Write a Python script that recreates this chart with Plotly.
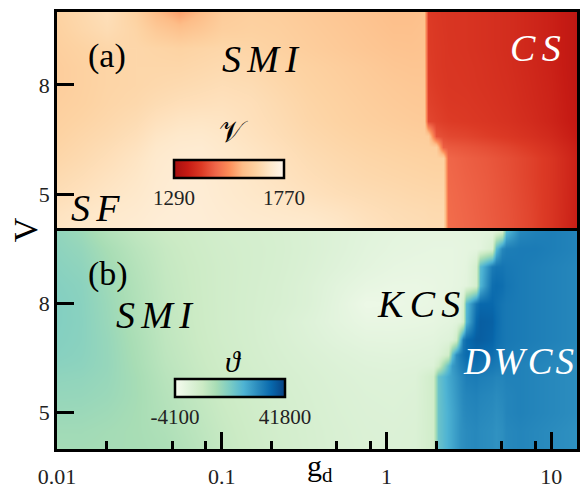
import plotly.graph_objects as go
from plotly.subplots import make_subplots

# Interaction strength V (rows, bottom to top), shared by both panels
V_ROWS = [4.0, 4.5, 5.0, 5.5, 6.0, 6.3, 6.6, 7.0, 7.5, 8.0, 8.5, 9.0, 9.5, 10.0]

# Panel (a): g_d grid and the nu map
GD_A = [0.01, 0.014, 0.02, 0.03, 0.04, 0.055, 0.075, 0.1, 0.15, 0.22, 0.33, 0.5, 0.75,
        1.1, 1.4, 1.68, 1.8, 2.0, 2.22, 2.38, 3, 4, 5.5, 7.5, 10, 12.5, 15]
NU = [
    [1702, 1712, 1720, 1726, 1732, 1734, 1732, 1728, 1724, 1722, 1720, 1710, 1695, 1684, 1680, 1677, 1675, 1675, 1675, 1482, 1472, 1460, 1445, 1425, 1400, 1372, 1350],
    [1694, 1704, 1713, 1720, 1728, 1732, 1730, 1724, 1717, 1712, 1707, 1698, 1686, 1678, 1674, 1672, 1670, 1669, 1669, 1480, 1470, 1458, 1444, 1424, 1400, 1374, 1352],
    [1680, 1690, 1702, 1713, 1724, 1730, 1728, 1720, 1710, 1702, 1692, 1682, 1675, 1669, 1665, 1663, 1662, 1661, 1661, 1478, 1468, 1457, 1442, 1422, 1400, 1375, 1354],
    [1670, 1680, 1693, 1707, 1720, 1728, 1726, 1718, 1706, 1695, 1683, 1673, 1665, 1660, 1657, 1655, 1654, 1653, 1653, 1475, 1465, 1455, 1440, 1420, 1400, 1376, 1355],
    [1660, 1670, 1683, 1700, 1716, 1725, 1725, 1716, 1703, 1690, 1676, 1666, 1658, 1653, 1650, 1648, 1647, 1646, 1646, 1472, 1462, 1452, 1438, 1420, 1400, 1376, 1356],
    [1655, 1665, 1677, 1693, 1711, 1720, 1722, 1712, 1699, 1686, 1671, 1661, 1653, 1648, 1644, 1642, 1641, 1640, 1462, 1455, 1448, 1438, 1425, 1408, 1390, 1370, 1352],
    [1650, 1660, 1670, 1685, 1703, 1713, 1715, 1707, 1693, 1680, 1666, 1656, 1648, 1642, 1638, 1636, 1634, 1445, 1435, 1430, 1425, 1415, 1405, 1392, 1378, 1360, 1345],
    [1645, 1653, 1663, 1675, 1690, 1700, 1703, 1700, 1687, 1675, 1660, 1650, 1641, 1634, 1630, 1628, 1428, 1420, 1415, 1412, 1408, 1402, 1394, 1382, 1368, 1352, 1338],
    [1640, 1647, 1657, 1665, 1675, 1683, 1687, 1690, 1683, 1670, 1656, 1646, 1636, 1628, 1624, 1622, 1420, 1414, 1410, 1406, 1404, 1398, 1390, 1378, 1366, 1350, 1336],
    [1635, 1645, 1655, 1660, 1665, 1670, 1675, 1680, 1675, 1663, 1651, 1641, 1631, 1623, 1619, 1618, 1416, 1410, 1406, 1403, 1401, 1395, 1388, 1376, 1364, 1348, 1334],
    [1635, 1645, 1655, 1660, 1660, 1660, 1665, 1670, 1665, 1656, 1646, 1636, 1626, 1616, 1613, 1613, 1414, 1408, 1404, 1402, 1400, 1394, 1386, 1374, 1362, 1346, 1332],
    [1640, 1650, 1660, 1660, 1655, 1650, 1655, 1660, 1655, 1646, 1636, 1626, 1616, 1608, 1606, 1608, 1412, 1407, 1404, 1401, 1398, 1392, 1385, 1372, 1360, 1345, 1330],
    [1645, 1660, 1675, 1655, 1625, 1605, 1620, 1640, 1645, 1641, 1631, 1621, 1611, 1601, 1601, 1606, 1412, 1406, 1403, 1400, 1398, 1392, 1385, 1372, 1360, 1345, 1330],
    [1650, 1665, 1685, 1645, 1590, 1555, 1590, 1630, 1640, 1636, 1626, 1616, 1606, 1596, 1596, 1601, 1410, 1405, 1402, 1400, 1398, 1392, 1385, 1372, 1360, 1345, 1330],
]
NU_RANGE = [1290, 1770]

# Panel (b): g_d grid and the theta map
GD_B = [0.01, 0.014, 0.02, 0.03, 0.045, 0.07, 0.1, 0.15, 0.22, 0.33, 0.5, 0.75, 1.1, 1.5,
        1.93, 2.05, 2.35, 2.5, 2.65, 2.8, 2.93, 3.06, 3.5, 3.7, 4.35, 4.6, 5.05, 5.35,
        6.5, 8, 10, 12.5, 15]
THETA = [
    [13500, 13600, 13400, 13200, 12500, 10500, 8500, 7000, 5700, 4700, 3800, 3200, 3000, 3300, 6000, 21000, 25000, 26500, 28000, 29500, 30000, 30500, 31000, 30500, 30000, 29500, 30000, 31000, 31500, 31000, 30500, 30000, 29500],
    [14000, 14000, 13600, 13100, 12000, 10000, 8200, 6700, 5500, 4600, 3700, 3100, 2900, 3200, 6000, 21000, 25000, 26500, 28000, 29500, 30000, 30500, 31000, 30500, 30000, 29500, 30000, 31000, 31500, 31000, 30500, 30000, 29500],
    [14800, 14700, 14200, 13200, 11400, 9500, 7800, 6400, 5300, 4400, 3500, 2900, 2700, 3000, 6000, 21000, 25000, 26500, 28000, 29500, 30500, 31000, 31500, 31000, 30500, 30000, 30500, 31500, 32000, 31500, 31000, 30500, 30000],
    [15500, 15400, 14800, 13400, 11000, 9000, 7400, 6100, 5100, 4200, 3300, 2700, 2500, 2800, 6000, 21000, 25500, 27000, 28500, 30000, 31000, 31500, 32000, 31500, 31000, 30500, 31000, 31500, 32000, 31500, 31000, 30500, 30000],
    [16200, 16000, 15200, 13300, 10500, 8500, 7000, 5800, 4800, 3900, 3000, 2400, 2200, 2500, 6000, 21000, 26000, 27500, 29000, 30500, 31500, 32500, 33000, 32500, 32000, 31500, 31500, 32000, 32000, 31500, 31000, 30500, 30000],
    [16800, 16500, 15400, 13000, 10100, 8100, 6700, 5500, 4500, 3600, 2700, 2000, 1800, 2000, 2600, 6000, 22000, 28000, 30000, 32000, 33000, 34000, 34500, 34000, 33500, 33000, 32500, 32500, 32000, 31500, 31000, 30500, 30000],
    [17300, 16800, 15400, 12800, 9800, 7900, 6500, 5300, 4300, 3300, 2300, 1500, 1300, 1500, 1900, 2500, 6000, 22000, 30000, 33000, 34500, 35500, 36000, 35500, 35000, 34000, 33500, 33000, 32500, 32000, 31500, 31000, 30500],
    [17600, 17000, 15300, 12500, 9500, 7600, 6200, 5100, 4000, 2800, 1500, 600, 500, 700, 1000, 1400, 2000, 2800, 6000, 23000, 33000, 35500, 37500, 37500, 36500, 35000, 34000, 33500, 33000, 32500, 32000, 31500, 31000],
    [17800, 17100, 15000, 12000, 9200, 7400, 6000, 5000, 3800, 2400, 800, -500, -500, -300, 0, 300, 700, 1000, 1400, 2000, 5500, 24000, 36000, 37500, 37000, 35500, 34000, 33500, 33000, 32500, 32000, 31500, 31000],
    [17800, 17000, 14800, 11800, 9000, 7300, 6000, 5000, 4200, 3000, 800, -1500, -1200, -800, -500, -200, 200, 500, 1000, 1500, 5000, 23000, 34000, 36000, 36000, 35000, 34000, 33500, 33000, 32500, 32000, 31500, 31000],
    [17500, 16800, 14400, 11500, 8800, 7200, 6000, 5100, 4300, 3000, 1200, -200, -800, -800, -600, -400, -200, 0, 200, 400, 700, 1000, 5000, 24000, 35000, 35500, 35000, 34000, 33000, 32500, 32000, 31500, 31000],
    [17000, 16200, 13800, 11000, 8500, 7100, 6000, 5200, 4500, 3400, 2000, 800, 0, -300, -300, -200, -100, 0, 100, 300, 500, 800, 4500, 23000, 33000, 34000, 34000, 33500, 33000, 32500, 32000, 31500, 31000],
    [16500, 15500, 13000, 10300, 8200, 6800, 5800, 5200, 4600, 3600, 2400, 1200, 500, 200, 0, 0, 0, 0, 100, 200, 300, 400, 600, 900, 4000, 23000, 31000, 32500, 33000, 33000, 32500, 32000, 31500],
    [16000, 14500, 11500, 9200, 7500, 6500, 5500, 5000, 4500, 3500, 2500, 1500, 800, 500, 300, 300, 300, 300, 400, 400, 500, 600, 800, 1000, 1200, 1500, 4000, 23000, 31000, 32000, 32500, 32000, 31500],
]
THETA_RANGE = [-4100, 41800]

# Axis ticks
X_MAJOR = [0.01, 0.1, 1, 10]
X_MAJOR_TEXT = ["0.01", "0.1", "1", "10"]
X_MINOR = [0.02, 0.05, 0.08, 0.2, 0.5, 0.8, 2, 5, 8]
Y_TICKS = [5, 8]

NU_SCALE = [
    [0.0, "#a50f0f"], [0.125, "#c61b14"], [0.25, "#dc3a25"], [0.375, "#ef6548"],
    [0.5, "#fc8d59"], [0.625, "#fdbd88"], [0.75, "#fdd3a3"], [0.875, "#fee8ca"],
    [1.0, "#fff6ec"],
]
GNBU = [
    [0.0, "#f7fcf0"], [0.125, "#e0f3db"], [0.25, "#ccebc5"], [0.375, "#a8ddb5"],
    [0.5, "#7bccc4"], [0.625, "#4eb3d3"], [0.75, "#2b8cbe"], [0.875, "#0868ac"],
    [1.0, "#084081"],
]

SERIF = "Liberation Serif"
W, H = 582, 491
ML, MR, MT, MB = 57, 2, 12, 38
PW, PH = W - ML - MR, H - MT - MB


def px(x):
    return (x - ML) / PW


def py(y):
    return (H - MB - y) / PH


def small_bar(cx, top, vals):
    return dict(
        orientation="h", x=px(cx), xanchor="center", y=py(top), yanchor="top",
        len=110, lenmode="pixels", thickness=18, thicknessmode="pixels",
        outlinewidth=2.5, outlinecolor="black", xpad=0, ypad=0,
        tickvals=vals, ticktext=[str(v) for v in vals], ticks="",
        tickfont=dict(family=SERIF, size=21, color="#222"),
    )


fig = make_subplots(rows=2, cols=1, shared_xaxes=True, vertical_spacing=0)

fig.add_trace(go.Heatmap(
    x=GD_A, y=V_ROWS, z=NU, zmin=NU_RANGE[0], zmax=NU_RANGE[1],
    colorscale=NU_SCALE, zsmooth="best",
    colorbar=small_bar(230, 161, NU_RANGE),
), row=1, col=1)

fig.add_trace(go.Heatmap(
    x=GD_B, y=V_ROWS, z=THETA, zmin=THETA_RANGE[0], zmax=THETA_RANGE[1],
    colorscale=GNBU, zsmooth="best",
    colorbar=small_bar(231, 382, THETA_RANGE),
), row=2, col=1)

frame = dict(showline=True, mirror=True, linecolor="black", linewidth=2.5,
             showgrid=False, zeroline=False)
fig.update_xaxes(type="log", range=[-2, 1.157], **frame)
fig.update_xaxes(row=1, col=1, ticks="", showticklabels=False)
fig.update_xaxes(
    row=2, col=1, tickmode="array", tickvals=X_MAJOR, ticktext=X_MAJOR_TEXT,
    ticks="inside", ticklen=17, tickwidth=3, tickcolor="black",
    ticklabelstandoff=6,
    minor=dict(tickmode="array", tickvals=X_MINOR, ticks="inside", ticklen=8,
               tickwidth=2.5, tickcolor="black"),
    tickfont=dict(family=SERIF, size=22, color="#222"),
)
fig.update_yaxes(
    range=[4, 10], tickmode="array", tickvals=Y_TICKS, ticks="inside", ticklen=17,
    tickwidth=3, tickcolor="black", tickfont=dict(family=SERIF, size=22, color="#222"),
    **frame,
)

SP = "\u2006"
labels = [
    ("(a)", 107, 56, 34, "black", False),
    ("(b)", 108, 276, 34, "black", False),
    (SP.join("SMI"), 262, 59, 38, "black", True),
    (SP.join("CS"), 538, 48, 38, "white", True),
    (SP.join("SF"), 96, 210, 38, "black", True),
    (SP.join("SMI"), 156, 318, 38, "black", True),
    (SP.join("KCS"), 421, 307, 38, "black", True),
    ("\u200a".join("DWCS"), 521, 365, 37, "white", True),
    ("𝒱", 235, 133, 30, "black", False),
    ("ϑ", 235, 365, 30, "black", True),
]
for text, x, y, size, color, ital in labels:
    fig.add_annotation(
        x=px(x), y=py(y), xref="paper", yref="paper", showarrow=False,
        text=f"<i>{text}</i>" if ital else text,
        font=dict(family=SERIF, size=size, color=color),
        xanchor="center", yanchor="middle",
    )

fig.add_annotation(x=px(25), y=py(232), xref="paper", yref="paper", showarrow=False,
                   text="V", textangle=-90, font=dict(family=SERIF, size=34, color="black"),
                   xanchor="center", yanchor="middle")
fig.add_annotation(x=px(322), y=py(472), xref="paper", yref="paper", showarrow=False,
                   text="g<sub>d</sub>", font=dict(family=SERIF, size=30, color="black"),
                   xanchor="center", yanchor="middle")

fig.update_layout(
    width=W, height=H, margin=dict(l=ML, r=MR, t=MT, b=MB),
    paper_bgcolor="white", plot_bgcolor="white", showlegend=False,
)

fig.write_html("out.html")
